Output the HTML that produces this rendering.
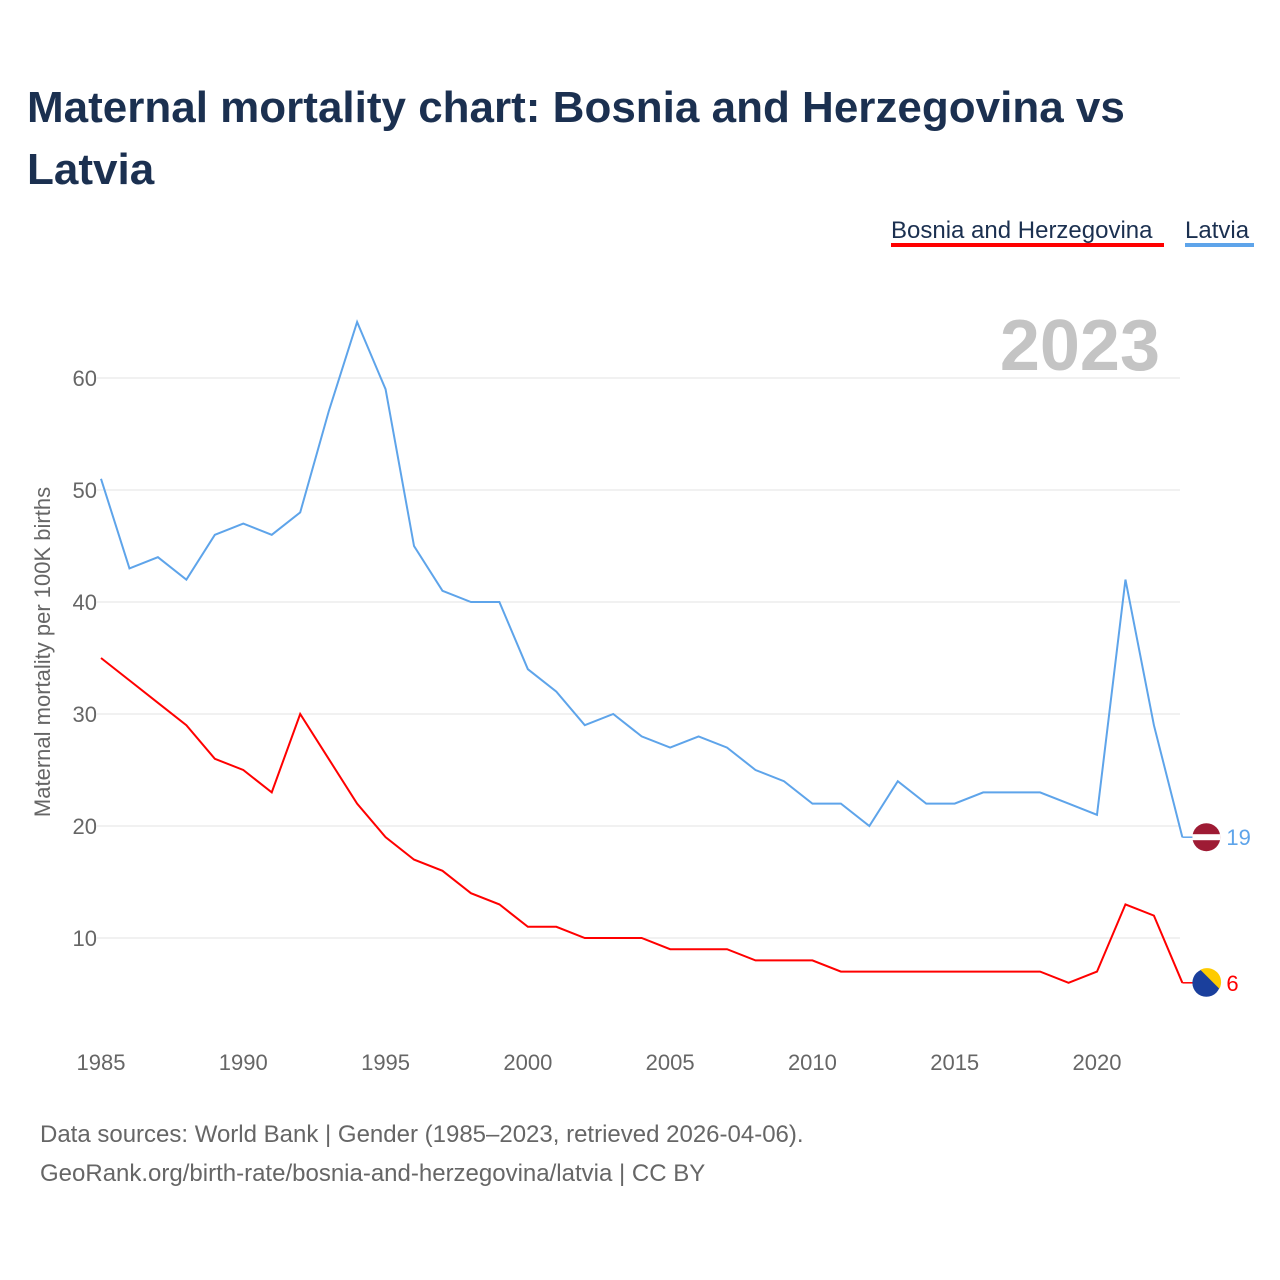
<!DOCTYPE html>
<html><head><meta charset="utf-8"><style>
body{margin:0;width:1280px;height:1280px;background:#fff;font-family:"Liberation Sans",sans-serif;overflow:hidden}
svg{position:absolute;left:0;top:0}
</style></head><body>
<svg id="c" width="1280" height="1280">
<text x="27" y="122" font-size="44" font-weight="bold" fill="#1b3050">Maternal mortality chart: Bosnia and Herzegovina vs</text>
<text x="27" y="184" font-size="44" font-weight="bold" fill="#1b3050">Latvia</text>
<g><text x="891" y="238" font-size="24" fill="#1b3050">Bosnia and Herzegovina</text><rect x="891" y="243" width="273" height="4" fill="#ff0000"/></g>
<g><text x="1185" y="238" font-size="24" fill="#1b3050">Latvia</text><rect x="1185" y="243" width="69" height="4" fill="#5ea4ea"/></g>
<text x="1160" y="370" font-size="72" font-weight="bold" fill="#c4c4c4" text-anchor="end">2023</text>
<text transform="translate(50,652) rotate(-90)" font-size="22" fill="#666" text-anchor="middle">Maternal mortality per 100K births</text>
<g id="grid"></g><g id="xt"></g><g id="lines"></g>
<text x="40" y="1142" font-size="24" fill="#666">Data sources: World Bank | Gender (1985–2023, retrieved 2026-04-06).</text>
<text x="40" y="1181" font-size="24" fill="#666">GeoRank.org/birth-rate/bosnia-and-herzegovina/latvia | CC BY</text>
</svg>
<script>
const years=[];for(let y=1985;y<=2023;y++)years.push(y);
const latvia=[51,43,44,42,46,47,46,48,57,65,59,45,41,40,40,34,32,29,30,28,27,28,27,25,24,22,22,20,24,22,22,23,23,23,22,21,42,29,19];
const bosnia=[35,33,31,29,26,25,23,30,26,22,19,17,16,14,13,11,11,10,10,10,9,9,9,8,8,8,7,7,7,7,7,7,7,7,6,7,13,12,6];
const yTicks=[10,20,30,40,50,60];
const xTicks=[1985,1990,1995,2000,2005,2010,2015,2020];
const NS="http://www.w3.org/2000/svg";
const X=v=>101+(v-1985)*28.457, Y=v=>1050-v*11.2;
function mk(t,a,p){const e=document.createElementNS(NS,t);for(const k in a)e.setAttribute(k,a[k]);p.appendChild(e);return e;}
const g=document.getElementById('grid');
yTicks.forEach(t=>{
 const l=mk('line',{x1:97,x2:1180,y1:Y(t),y2:Y(t),stroke:'#e3e3e3','stroke-width':1},g);
 
 
 const tx=mk('text',{x:97,y:Y(t)+8,'font-size':22,fill:'#666','text-anchor':'end'},g);tx.textContent=t;
 
 
});
const xg=document.getElementById('xt');
xTicks.forEach(t=>{
 const tx=mk('text',{x:X(t),y:1070,'font-size':22,fill:'#666','text-anchor':'middle'},xg);tx.textContent=t;
 
 
});
const lg=document.getElementById('lines');
function series(d,col,name){
 const p=mk('polyline',{points:d.map((v,i)=>X(years[i])+','+Y(v)).join(' '),fill:'none',stroke:col,'stroke-width':2},lg);
 
 
 const last=d[d.length-1],lx=X(years[years.length-1]);
 mk('line',{x1:lx,x2:lx+12,y1:Y(last),y2:Y(last),stroke:col,'stroke-width':1.5},lg);
 const t=mk('text',{x:lx+44,y:Y(last)+8,'font-size':22,fill:col},lg);t.textContent=last;
 
 
 return [lx+24,Y(last)];
}
const [lxa,lya]=series(latvia,'#5ea4ea','latvia');
const [bxa,bya]=series(bosnia,'#ff0000','bosnia');
const f1=mk('g',{},lg);


mk('circle',{cx:lxa,cy:lya,r:14,fill:'#9e1b34'},f1);
mk('rect',{x:lxa-14,y:lya-3,width:28,height:6,fill:'#fff'},f1);
const f2=mk('g',{},lg);


mk('circle',{cx:bxa,cy:bya,r:14,fill:'#1a3f9c'},f2);
mk('path',{d:`M${bxa-6},${bya-13} A14,14 0 0 1 ${bxa+13},${bya+6} Z`,fill:'#fecb00'},f2);
</script>
</body></html>
